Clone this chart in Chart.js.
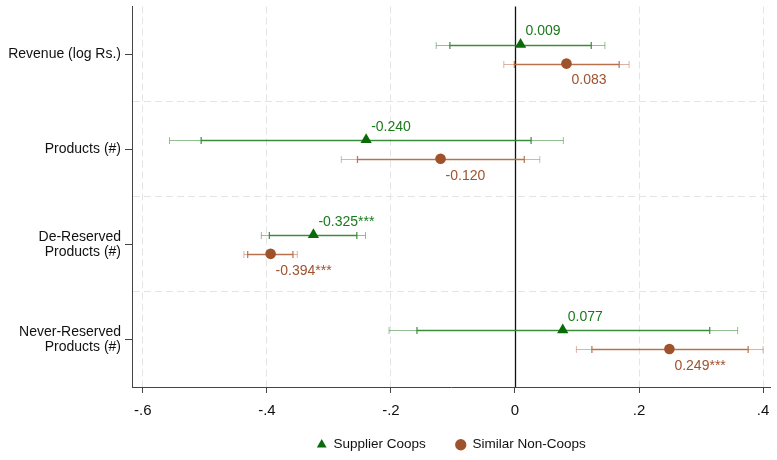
<!DOCTYPE html>
<html>
<head>
<meta charset="utf-8">
<script src="https://cdn.jsdelivr.net/npm/chart.js"></script>
<style>
  body { margin: 0; background: #fff; }
  #wrap { width: 777px; height: 460px; }
</style>
</head>
<body>
<div id="wrap"><canvas id="myChart" width="777" height="460"></canvas></div>
<script>
// categories, top to bottom
const categories = [
    ['Revenue (log Rs.)'],
    ['Products (#)'],
    ['De-Reserved', 'Products (#)'],
    ['Never-Reserved', 'Products (#)']
];
const xTicks = [-0.6, -0.4, -0.2, 0, 0.2, 0.4];

// Supplier Coops
const coopCoef  = [0.009, -0.240, -0.325, 0.077];
const coopLo90  = [-0.105, -0.506, -0.396, -0.158];
const coopHi90  = [0.123, 0.026, -0.255, 0.314];
const coopLo95  = [-0.127, -0.557, -0.409, -0.203];
const coopHi95  = [0.145, 0.078, -0.241, 0.359];
const coopText  = ['0.009', '-0.240', '-0.325***', '0.077'];

// Similar Non-Coops
const nonCoef   = [0.083, -0.120, -0.394, 0.249];
const nonLo90   = [-0.001, -0.254, -0.431, 0.124];
const nonHi90   = [0.168, 0.015, -0.358, 0.376];
const nonLo95   = [-0.018, -0.280, -0.437, 0.099];
const nonHi95   = [0.184, 0.040, -0.351, 0.400];
const nonText   = ['0.083', '-0.120', '-0.394***', '0.249***'];

const GREEN = '#0b6b0b';
const BROWN = '#a0522d';

const series = [
    { coef: coopCoef, lo90: coopLo90, hi90: coopHi90, lo95: coopLo95, hi95: coopHi95, text: coopText,
      shift: -0.1, inner: 'rgba(40,130,40,0.85)', outer: 'rgba(60,140,60,0.55)', label: '#1a7a1a', above: true },
    { coef: nonCoef, lo90: nonLo90, hi90: nonHi90, lo95: nonLo95, hi95: nonHi95, text: nonText,
      shift: 0.1, inner: 'rgba(180,100,65,0.85)', outer: 'rgba(190,120,90,0.55)', label: BROWN, above: false }
];

const toPoints = (coef, shift) => coef.map((v, i) => ({ x: v, y: i + 1 + shift }));

// zero line + confidence intervals + value labels
const ciPlugin = {
    id: 'ciBars',
    afterLayout(chart) {
        // x axis box is kept short so the legend sits close; don't clip its tick labels
        chart.scales.x._computeLabelArea = () => undefined;
    },
    beforeDatasetsDraw(chart) {
        const { ctx, chartArea, scales: { x, y } } = chart;
        ctx.save();
        const x0 = Math.round(x.getPixelForValue(0)) + 0.5;
        ctx.strokeStyle = '#111';
        ctx.lineWidth = 1.3;
        ctx.beginPath();
        ctx.moveTo(x0, chartArea.top);
        ctx.lineTo(x0, chartArea.bottom);
        ctx.stroke();

        const seg = (a, b, py, color, w) => {
            const pa = x.getPixelForValue(a), pb = x.getPixelForValue(b);
            ctx.strokeStyle = color;
            ctx.lineWidth = w;
            ctx.beginPath();
            ctx.moveTo(pa, py); ctx.lineTo(pb, py);
            ctx.moveTo(pa, py - 3.5); ctx.lineTo(pa, py + 3.5);
            ctx.moveTo(pb, py - 3.5); ctx.lineTo(pb, py + 3.5);
            ctx.stroke();
        };
        series.forEach(s => {
            s.coef.forEach((c, i) => {
                const py = Math.round(y.getPixelForValue(i + 1 + s.shift)) + 0.5;
                seg(s.lo95[i], s.hi95[i], py, s.outer, 1);
                seg(s.lo90[i], s.hi90[i], py, s.inner, 1.3);
            });
        });
        ctx.restore();
    },
    afterDatasetsDraw(chart) {
        const { ctx, scales: { x, y } } = chart;
        ctx.save();
        ctx.font = '14px "Liberation Sans", Arial, sans-serif';
        ctx.textAlign = 'left';
        ctx.textBaseline = 'middle';
        series.forEach(s => {
            s.coef.forEach((c, i) => {
                const px = x.getPixelForValue(c);
                const py = y.getPixelForValue(i + 1 + s.shift);
                ctx.fillStyle = s.label;
                ctx.fillText(s.text[i], px + 5, s.above ? py - 13 : py + 17);
            });
        });
        ctx.restore();
    }
};

const data = {
    datasets: [
        {
            label: 'Supplier Coops',
            data: toPoints(coopCoef, -0.1),
            pointStyle: 'triangle',
            pointRadius: 6.5,
            backgroundColor: GREEN,
            borderColor: GREEN,
            borderWidth: 0
        },
        {
            label: 'Similar Non-Coops',
            data: toPoints(nonCoef, 0.1),
            pointStyle: 'circle',
            pointRadius: 5.3,
            backgroundColor: BROWN,
            borderColor: BROWN,
            borderWidth: 0
        }
    ]
};

const options = {
    responsive: false,
    animation: false,
    layout: { padding: { top: 5, right: 0, left: 0, bottom: 0 } },
    scales: {
        x: {
            type: 'linear',
            min: -0.6175,
            max: 0.412,
            afterBuildTicks: axis => { axis.ticks = xTicks.map(v => ({ value: v })); },
            afterFit: scale => {
                scale.height = 21;
                scale.paddingLeft = 0;
                scale.paddingRight = 0;
            },
            grid: {
                color: c => (c.tick && c.tick.value === 0) ? 'rgba(0,0,0,0)' : '#e4e4e4',
                tickColor: '#444',
                tickLength: 6,
                lineWidth: 1
            },
            border: { display: true, color: '#444', width: 1, dash: [7, 4] },
            ticks: {
                color: '#111',
                padding: 9,
                font: { family: '"Liberation Sans", Arial, sans-serif', size: 15 },
                callback: v => v === 0 ? '0' : (v < 0 ? '-' : '') + Math.abs(v).toFixed(1).replace(/^0/, '')
            }
        },
        y: {
            type: 'linear',
            min: 0.5,
            max: 4.5,
            reverse: true,
            afterBuildTicks: axis => {
                const t = [];
                for (let v = 1; v <= 4; v += 0.5) t.push({ value: v });
                axis.ticks = t;
            },
            afterFit: scale => {
                scale.width = 132;
                scale.paddingTop = 0;
                scale.paddingBottom = 0;
            },
            grid: {
                color: c => (c.tick && c.tick.value % 1 !== 0) ? '#e4e4e4' : 'rgba(0,0,0,0)',
                tickColor: c => (c.tick && c.tick.value % 1 === 0) ? '#444' : 'rgba(0,0,0,0)',
                tickLength: 7,
                lineWidth: 1
            },
            border: { display: true, color: '#444', width: 1, dash: [7, 4] },
            ticks: {
                color: '#111',
                padding: 4,
                autoSkip: false,
                font: { family: '"Liberation Sans", Arial, sans-serif', size: 14, lineHeight: 1.05 },
                callback: v => v % 1 === 0 ? categories[v - 1] : ''
            }
        }
    },
    plugins: {
        legend: {
            display: true,
            position: 'bottom',
            fullSize: false,
            maxHeight: 52,
            labels: {
                usePointStyle: true,
                boxWidth: 10,
                boxHeight: 8,
                padding: 30,
                color: '#111',
                font: { family: '"Liberation Sans", Arial, sans-serif', size: 13.5 }
            }
        },
        tooltip: { enabled: false }
    }
};

const canvas = document.getElementById('myChart');
const ctx = canvas.getContext('2d');

const myChart = new Chart(ctx, {
    type: 'scatter',
    data: data,
    options: options,
    plugins: [ciPlugin]
});
</script>
</body>
</html>
